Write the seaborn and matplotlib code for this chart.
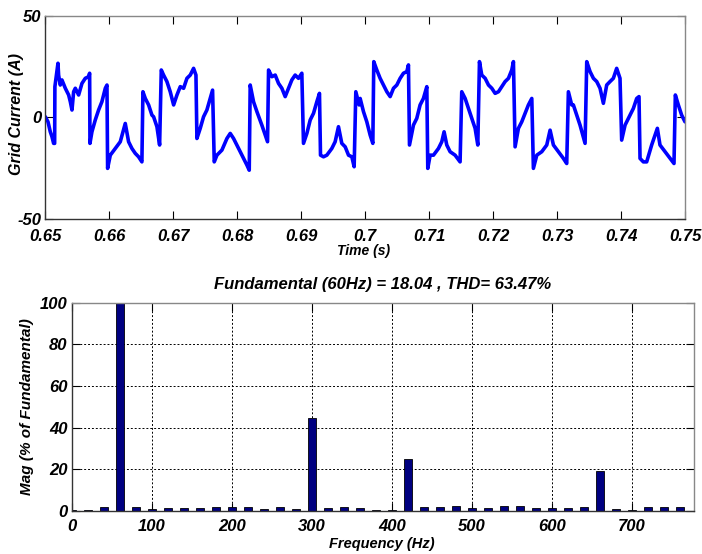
import matplotlib
matplotlib.use("Agg")
import matplotlib.pyplot as plt
import seaborn as sns
import pandas as pd
import numpy as np

# ---- top panel: grid current waveform ----
time_ms = [650.00, 650.42, 650.78, 651.04, 651.30, 651.46, 651.50, 651.98, 652.08, 652.34,
           652.60, 653.13, 653.65, 653.91, 654.17, 654.43, 654.69, 655.21, 655.73, 656.25,
           656.77, 656.93, 656.98, 657.29, 657.81, 658.33, 658.85, 659.38, 659.64, 659.74,
           660.16, 660.94, 661.72, 662.50, 663.02, 663.54, 664.06, 664.58, 665.10, 665.26,
           665.63, 666.15, 666.67,
           666.93, 667.45, 667.87, 668.13, 668.49, 669.01, 669.53, 670.06, 670.58, 671.10,
           671.62, 672.14, 672.66, 673.18, 673.55, 673.70, 674.22, 674.74, 675.26, 675.78,
           676.15, 676.41, 676.83, 677.61, 678.39, 678.91, 679.43, 679.95, 680.47, 681.00,
           681.52, 681.88, 682.03, 682.55, 683.08,
           683.85, 684.38, 684.74, 684.90, 685.42, 685.94, 686.46, 686.98, 687.50, 688.02,
           688.54, 689.06, 689.58, 690.10, 690.36, 690.89, 691.41, 691.93, 692.45, 692.86,
           693.02, 693.49, 694.01, 694.79, 695.31, 695.83, 696.35, 696.88, 697.40, 697.92,
           698.28, 698.54, 699.06,
           699.22, 699.74, 700.26, 700.78, 701.20, 701.35, 701.82, 702.34, 702.86, 703.39,
           703.91, 704.43, 704.95, 705.47, 705.99, 706.51, 706.77, 706.93, 707.55, 708.07,
           708.59, 709.11, 709.64, 709.79, 710.16, 710.68, 711.46, 711.98, 712.34, 712.76,
           713.28, 714.06, 714.84, 715.10, 715.63,
           716.15, 716.67, 717.19, 717.61, 717.87, 718.23, 718.76, 719.28, 719.80, 720.32,
           720.84, 721.36, 721.88, 722.40, 722.92, 723.18, 723.44, 723.96, 724.48, 725.00,
           725.52, 726.05, 726.30, 726.83, 727.61, 728.39, 728.91, 729.43, 730.21, 730.99,
           731.51, 731.77, 732.29,
           732.55, 733.07, 733.59, 734.38, 734.64, 735.16, 735.68, 736.20, 736.72, 737.24,
           737.76, 738.28, 738.80, 739.32, 739.84, 740.10, 740.63, 741.41, 741.93, 742.45,
           742.81, 742.97, 743.49, 744.01, 744.79, 745.68, 746.09, 746.88, 747.66, 748.28,
           748.49, 748.96, 749.48, 750.00]
current_a = [0.3, -2.2, -7.1, -9.5, -12.8, -12.8, 15.1, 26.6, 20.8, 15.9,
             18.4, 14.3, 11.0, 7.7, 3.6, 12.6, 14.3, 11.0, 16.7, 19.2,
             20.0, 21.7, -12.8, -7.1, -1.3, 3.6, 7.7, 14.3, 15.9, -25.1,
             -18.6, -15.3, -12.0, -3.0, -12.0, -15.3, -17.7, -19.4, -21.9, 12.6,
             9.3, 6.1, 1.1,
             0.3, -4.6, -13.6, 23.3, 20.8, 17.6, 12.6, 6.1, 11.0, 15.1,
             14.3, 19.2, 20.8, 24.1, 20.8, -10.4, -5.4, 0.3, 3.6, 9.3,
             13.4, -21.9, -18.6, -16.1, -10.4, -7.9, -10.4, -13.6, -16.9, -20.2,
             -23.5, -26.0, 15.9, 7.7, 2.8,
             -3.8, -8.7, -12.0, 23.3, 20.0, 20.8, 16.7, 14.3, 10.2, 14.3,
             18.4, 20.8, 19.2, 21.7, -12.8, -7.9, -1.3, 2.0, 7.7, 11.8,
             -18.6, -19.4, -18.6, -15.3, -12.0, -4.6, -12.8, -14.5, -18.6, -19.4,
             -24.3, 12.6, 6.1,
             9.3, 2.8, -2.2, -8.7, -12.8, 27.4, 23.3, 19.2, 15.9, 12.6,
             10.2, 14.3, 15.9, 19.2, 21.7, 22.5, 25.8, -13.6, -3.8, -0.5,
             6.1, 9.3, 15.1, -25.1, -18.6, -18.6, -15.3, -12.0, -7.1, -13.6,
             -16.9, -18.6, -21.9, 12.6, 9.3,
             4.4, -0.5, -5.4, -13.6, 27.4, 20.8, 19.2, 15.9, 14.3, 11.8,
             12.6, 15.1, 17.6, 19.2, 23.3, 27.4, -14.5, -5.4, -2.2, 2.0,
             6.1, 9.3, -25.1, -18.6, -16.9, -13.6, -6.3, -13.6, -16.9, -20.2,
             -22.7, 12.6, 6.1,
             6.1, 1.1, -3.8, -12.8, 27.4, 22.5, 19.2, 17.6, 14.3, 6.9,
             15.9, 17.6, 19.2, 24.1, 19.2, -11.2, -3.8, 1.1, 4.4, 9.3,
             10.2, -20.2, -21.9, -21.9, -13.6, -5.4, -13.6, -16.9, -20.2, -22.7,
             11.0, 6.1, 1.1, -2.2]

# ---- bottom panel: FFT spectrum ----
freq_hz = [0, 20, 40, 60, 80, 100, 120, 140, 160, 180, 200, 220, 240, 260, 280, 300,
           320, 340, 360, 380, 400, 420, 440, 460, 480, 500, 520, 540, 560, 580, 600,
           620, 640, 660, 680, 700, 720, 740, 760]
mag_pct = [0.3, 0.3, 1.6, 100.0, 1.6, 0.8, 1.1, 1.1, 1.1, 1.6, 1.6, 1.6, 0.8, 1.6, 0.8, 44.8,
           1.1, 1.6, 1.1, 0.3, 0.3, 24.8, 1.6, 1.6, 2.1, 1.1, 1.1, 2.4, 2.4, 1.1, 1.1,
           1.1, 1.6, 18.9, 0.8, 0.3, 1.6, 1.6, 1.6]

title_text = "Fundamental (60Hz) = 18.04 , THD= 63.47%"

sns.set_theme(style="white")
plt.rcParams['font.family'] = ['Liberation Sans', 'DejaVu Sans']
for k in ("text.color", "axes.labelcolor", "xtick.color", "ytick.color"):
    plt.rcParams[k] = "black"

fig = plt.figure(figsize=(7.02, 5.54), dpi=100)
ax1 = fig.add_axes([45.3/702, 1 - 219/554, 639.7/702, 203.3/554])
ax2 = fig.add_axes([71.7/702, 1 - 510.7/554, 622.6/702, 208/554])

tick_font = dict(fontsize=12, fontweight='bold', fontstyle='italic')

df1 = pd.DataFrame({"t": np.array(time_ms) / 1000.0, "i": current_a})
sns.lineplot(data=df1, x="t", y="i", ax=ax1, color="#0000FF", linewidth=2.6,
             estimator=None, sort=False)
ax1.set_xlim(0.65, 0.75)
ax1.set_ylim(-50, 50)
ax1.set_xticks([0.65, 0.66, 0.67, 0.68, 0.69, 0.70, 0.71, 0.72, 0.73, 0.74, 0.75])
ax1.set_xticklabels(["0.65", "0.66", "0.67", "0.68", "0.69", "0.7", "0.71", "0.72",
                     "0.73", "0.74", "0.75"], **tick_font)
ax1.set_yticks([-50, 0, 50])
ax1.set_yticklabels(["-50", "0", "50"], **tick_font)
ax1.set_xlabel("Time (s)", fontsize=10, fontweight='bold', fontstyle='italic')
ax1.set_ylabel("Grid Current (A)", fontsize=11.5, fontweight='bold', fontstyle='italic')
ax1.xaxis.set_label_coords((364 - 45.3) / 639.7, (219 - 244) / 203.3)
ax1.yaxis.set_label_coords((24 - 45.3) / 639.7, (219 - 114) / 203.3)

df2 = pd.DataFrame({"f": freq_hz, "m": mag_pct})
sns.barplot(data=df2, x="f", y="m", ax=ax2, native_scale=True, color="#000080",
            saturation=1, width=0.5, edgecolor="black", linewidth=0.6)
ax2.set_xlim(0, 778)
ax2.set_ylim(0, 100)
ax2.set_xticks(range(0, 701, 100))
ax2.set_xticklabels([str(v) for v in range(0, 701, 100)], **tick_font)
ax2.set_yticks(range(0, 101, 20))
ax2.set_yticklabels([str(v) for v in range(0, 101, 20)], **tick_font)
ax2.grid(True, color="black", linestyle=(0, (2, 2)), linewidth=0.7)
ax2.set_axisbelow(True)
ax2.set_xlabel("Frequency (Hz)", fontsize=10.5, fontweight='bold', fontstyle='italic')
ax2.set_ylabel("Mag (% of Fundamental)", fontsize=11, fontweight='bold', fontstyle='italic')
ax2.xaxis.set_label_coords((382 - 71.7) / 622.6, (510.7 - 537) / 208)
ax2.yaxis.set_label_coords((34 - 71.7) / 622.6, 0.5)
ax2.set_title(title_text, fontsize=12, fontweight='bold', fontstyle='italic', pad=10)

for ax in (ax1, ax2):
    for side, s in ax.spines.items():
        s.set_color("#333333" if side in ("left", "bottom") else "#888888")
        s.set_linewidth(1.0)
    ax.tick_params(direction="in", length=6, width=0.8, top=True, right=True,
                   bottom=True, left=True, colors="black")
    ax.tick_params(axis="y", pad=3)
ax1.tick_params(axis="x", pad=7)
ax2.tick_params(axis="x", pad=6)

fig.savefig("out.png", dpi=100)
